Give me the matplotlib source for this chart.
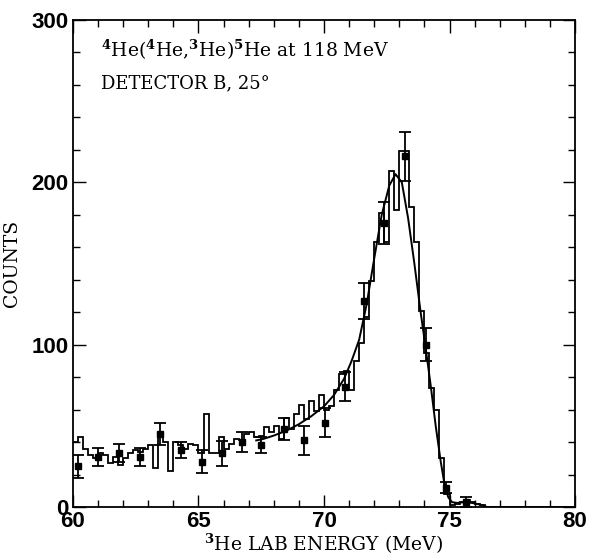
import matplotlib
matplotlib.use("Agg")
import matplotlib.pyplot as plt
import numpy as np
from matplotlib.ticker import MultipleLocator

# histogram: 0.2 MeV bins starting at 60 MeV
bin_start = 60.0
bin_width = 0.2
counts = [40, 43, 36, 32, 30, 33, 32, 27, 31, 26,
          30, 33, 35, 34, 36, 38, 24, 43, 40, 22,
          40, 38, 36, 39, 38, 33, 57, 33, 33, 43,
          36, 39, 42, 41, 45, 46, 43, 44, 49, 46,
          50, 42, 55, 48, 57, 63, 54, 65, 59, 69,
          60, 62, 72, 82, 84, 72, 90, 101, 117, 139,
          163, 181, 163, 207, 183, 219, 219, 185, 163, 121,
          95, 73, 60, 30, 8, 1, 2, 3, 4, 3,
          2, 1, 0, 0, 0, 0, 0, 0, 0, 0,
          0, 0, 0, 0, 0, 0, 0, 0, 0, 0]

# points with error bars
pt_e = [60.2, 61.0, 61.85, 62.65, 63.45, 64.3, 65.15, 65.95, 66.75, 67.5,
        68.4, 69.2, 70.05, 70.85, 71.6, 72.4, 73.24, 74.05, 74.85, 75.65]
pt_c = [25, 31, 33, 31, 45, 35, 28, 33, 40, 38,
        48, 41, 52, 74, 127, 175, 216, 100, 12, 3]
pt_err = [7, 5.5, 5.5, 5.5, 7, 5, 7, 7.5, 6, 5,
          7, 9, 9, 9, 11, 13, 15, 10, 3.5, 3]

# fitted curve
fit_e = [67.3, 67.6, 68.0, 68.5, 69.0, 69.5, 70.0, 70.4, 70.8, 71.1, 71.4,
         71.7, 72.0, 72.3, 72.6, 72.85, 73.1, 73.35, 73.6, 73.85, 74.05,
         74.25, 74.45, 74.65, 74.8, 74.95, 75.1, 75.3, 75.6, 75.9, 76.2, 76.5]
fit_c = [41, 42, 44, 47, 51, 56, 62, 69, 79, 90, 103,
         125, 153, 180, 198, 205, 200, 178, 150, 120, 98,
         75, 50, 28, 14, 6, 3, 2.5, 3, 2.5, 1.5, 0]

serif = ["DejaVu Serif"]
plt.rcParams["mathtext.fontset"] = "dejavuserif"

fig = plt.figure(figsize=(5.92, 5.55), dpi=100)
ax = fig.add_axes([0.1233, 0.0865, 0.8480, 0.8775])

edges = bin_start + bin_width * np.arange(len(counts) + 1)
ax.stairs(counts, edges, color="black", linewidth=1.3, baseline=None)
ax.plot(fit_e, fit_c, color="black", linewidth=1.4)
ax.errorbar(pt_e, pt_c, yerr=pt_err, fmt="s", color="black", markersize=4,
            elinewidth=1.3, capsize=4, capthick=1.3)

ax.set_xlim(60, 80)
ax.set_ylim(0, 300)
ax.xaxis.set_major_locator(MultipleLocator(5))
ax.xaxis.set_minor_locator(MultipleLocator(1))
ax.yaxis.set_major_locator(MultipleLocator(100))
ax.yaxis.set_minor_locator(MultipleLocator(20))
ax.tick_params(which="both", direction="in", top=True, right=True, width=1.0)
ax.tick_params(which="major", length=9, labelsize=16, pad=3)
ax.tick_params(which="minor", length=5)
for lab in ax.get_xticklabels() + ax.get_yticklabels():
    lab.set_family("Liberation Sans")
    lab.set_weight("bold")
for sp in ax.spines.values():
    sp.set_linewidth(1.3)

ax.set_xlabel(r"$^{\mathbf{3}}$He LAB ENERGY (MeV)", family=serif, fontsize=13.5, labelpad=0)
ax.set_ylabel("COUNTS", family=serif, fontsize=13.5, labelpad=8)

ax.text(0.055, 0.925, r"$^{\mathbf{4}}$He($^{\mathbf{4}}$He,$^{\mathbf{3}}$He)$^{\mathbf{5}}$He at 118 MeV",
        transform=ax.transAxes, family=serif, fontsize=13.5)
ax.text(0.055, 0.86, "DETECTOR B, 25°", transform=ax.transAxes, family=serif, fontsize=13)

fig.savefig("out.png", dpi=100)
